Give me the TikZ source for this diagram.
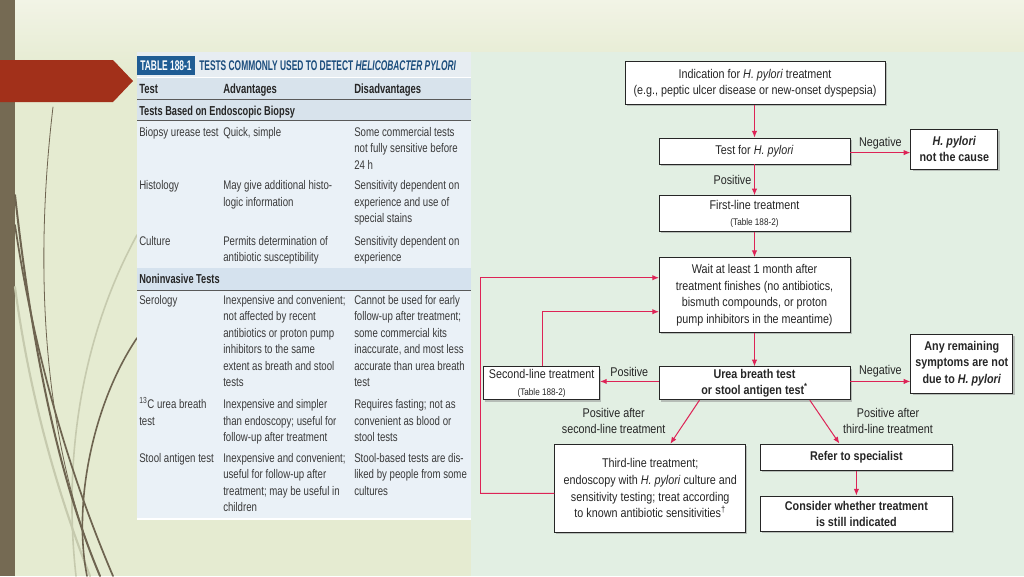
\documentclass[tikz,border=0pt]{standalone}
\usepackage{fontspec}
\setmainfont{Liberation Sans}
\newfontfamily\fcf[FakeStretch=0.85]{Liberation Sans}
\newfontfamily\tbf[FakeStretch=0.77]{Liberation Sans}
\newfontfamily\tbh[FakeStretch=0.71]{Liberation Sans}
\newfontfamily\ttlf[FakeStretch=0.6]{Liberation Sans}
\usetikzlibrary{arrows.meta,shadows}
\definecolor{bgc}{HTML}{E5EBD1}
\definecolor{bgtop}{HTML}{F2F4E6}
\definecolor{barc}{HTML}{756A53}
\definecolor{bannerc}{HTML}{A2301A}
\definecolor{panelc}{HTML}{E2EFE3}
\definecolor{tbody}{HTML}{EAF1F7}
\definecolor{thead}{HTML}{D8E3EC}
\definecolor{tsec}{HTML}{D5E2EE}
\definecolor{ttitle}{HTML}{E7EDF2}
\definecolor{tblue}{HTML}{1F5C94}
\definecolor{ttext}{HTML}{1A4C7C}
\definecolor{bodytxt}{HTML}{3A3A3A}
\definecolor{ared}{HTML}{DD2356}
\definecolor{darkcurve}{HTML}{6E6450}
\definecolor{lightcurve}{HTML}{C6CAAE}
\tikzset{
  tcellsty/.style={anchor=north west, inner sep=0pt, align=left, text=bodytxt,
    font=\tbf\fontsize{9.4}{12.375}\selectfont},
  thsty/.style={anchor=base west, inner sep=0pt, text=black!85,
    font=\tbh\bfseries\fontsize{10}{12}\selectfont},
  fbox/.style={draw=black!85, line width=0.6pt, fill=white, inner sep=1pt, align=center,
    text=black!85, font=\fcf\fontsize{9.5}{12.4}\selectfont, minimum width=143.25pt,
    drop shadow={shadow xshift=1.3pt,shadow yshift=-1.3pt,fill=black!45}},
  fboxb/.style={fbox, font=\fcf\bfseries\fontsize{9.5}{12.2}\selectfont},
  arr/.style={draw=ared, line width=0.75pt, -{Latex[length=5pt,width=4pt]}},
  pline/.style={draw=ared, line width=0.75pt},
  lbl/.style={font=\fcf\fontsize{9.5}{12.2}\selectfont, text=black!85, align=center, inner sep=0pt},
  dcurve/.style={draw=darkcurve, line cap=round},
  lcurve/.style={draw=lightcurve, line cap=round},
}
\newcommand\tcell[4]{\node[tcellsty] (#1) at (#2,#3-11.55) {\strut #4};}
\newcommand\smalltab{\fontsize{7.2}{9}\selectfont}
\begin{document}
\begin{tikzpicture}[x=0.75pt,y=-0.75pt]
\useasboundingbox (0,0) rectangle (1024,576);
% background
\fill[bgc] (0,0) rectangle (1024,576);
\shade[top color=bgtop, bottom color=bgc] (0,0) rectangle (1024,70);
\fill[panelc] (471,52) rectangle (1024,576);
\fill[barc] (0,0) rectangle (15,576);
% decorative curves
\draw[lcurve, line width=1.6pt] (15,287) .. controls (30,400) and (60,500) .. (90,576);
\draw[lcurve, line width=1.2pt] (137,235) .. controls (85,330) and (62,450) .. (76,576);
\draw[dcurve, line width=0.6pt] (53,107) .. controls (36,250) and (38,430) .. (100,576);
\draw[dcurve, line width=1.5pt] (15,195) .. controls (30,330) and (55,470) .. (100,576);
\draw[dcurve, line width=1.3pt] (15,225) .. controls (35,360) and (72,480) .. (113,576);
\draw[dcurve, line width=1.2pt] (137,338) .. controls (95,400) and (72,500) .. (87,576);
% banner
\fill[bannerc] (0,60) -- (113,60) -- (133,81) -- (113,102) -- (0,102) -- cycle;
% ---------------- table ----------------
\fill[tbody] (137,52) rectangle (471,518);
\fill[ttitle] (137,52) rectangle (471,77);
\fill[thead] (137,78) rectangle (471,99);
\fill[thead] (137,100) rectangle (471,120);
\fill[tsec] (137,268) rectangle (471,290);
\draw[white, line width=0.8pt] (137,77.5) -- (471,77.5);
\draw[black!65, line width=0.7pt] (137,99.5) -- (471,99.5);
\draw[black!65, line width=0.7pt] (137,120.5) -- (471,120.5);
\draw[black!65, line width=0.7pt] (137,290.5) -- (471,290.5);
\draw[white, line width=1.5pt] (137,518.5) -- (471,518.5);
\fill[tblue] (137,56) rectangle (195,75);
\node[anchor=base, inner sep=0pt, text=white, font=\ttlf\bfseries\fontsize{10.5}{12}\selectfont] (tno) at (166,70) {TABLE 188-1};
\node[anchor=base west, inner sep=0pt, text=ttext, font=\ttlf\bfseries\fontsize{10.5}{12}\selectfont] (ttl) at (199,70) {TESTS COMMONLY USED TO DETECT \textit{HELICOBACTER PYLORI}};
\node[thsty] (hA) at (139,93.5) {Test};
\node[thsty] (hB) at (223,93.5) {Advantages};
\node[thsty] (hC) at (354,93.5) {Disadvantages};
\node[thsty, font=\tbh\bfseries\fontsize{9.75}{12}\selectfont] (sec1) at (139,115) {Tests Based on Endoscopic Biopsy};
\node[thsty, font=\tbh\bfseries\fontsize{9.75}{12}\selectfont] (sec2) at (139,283) {Noninvasive Tests};
% rows
\tcell{r1a}{139}{136}{Biopsy urease test}
\tcell{r1b}{223}{136}{Quick, simple}
\tcell{r1c}{354}{136}{Some commercial tests\\not fully sensitive before\\24 h}
\tcell{r2a}{139}{189.5}{Histology}
\tcell{r2b}{223}{189.5}{May give additional histo-\\logic information}
\tcell{r2c}{354}{189.5}{Sensitivity dependent on\\experience and use of\\special stains}
\tcell{r3a}{139}{245}{Culture}
\tcell{r3b}{223}{245}{Permits determination of\\antibiotic susceptibility}
\tcell{r3c}{354}{245}{Sensitivity dependent on\\experience}
\tcell{r4a}{139}{304}{Serology}
\tcell{r4b}{223}{304}{Inexpensive and convenient;\\not affected by recent\\antibiotics or proton pump\\inhibitors to the same\\extent as breath and stool\\tests}
\tcell{r4c}{354}{304}{Cannot be used for early\\follow-up after treatment;\\some commercial kits\\inaccurate, and most less\\accurate than urea breath\\test}
\tcell{r5a}{139}{408.5}{\textsuperscript{13}C urea breath\\test}
\tcell{r5b}{223}{408.5}{Inexpensive and simpler\\than endoscopy; useful for\\follow-up after treatment}
\tcell{r5c}{354}{408.5}{Requires fasting; not as\\convenient as blood or\\stool tests}
\tcell{r6a}{139}{462}{Stool antigen test}
\tcell{r6b}{223}{462}{Inexpensive and convenient;\\useful for follow-up after\\treatment; may be useful in\\children}
\tcell{r6c}{354}{462}{Stool-based tests are dis-\\liked by people from some\\cultures}
% ---------------- flowchart ----------------
\node[fbox, minimum width=195pt, minimum height=32.25pt] (ind) at (755,83) {Indication for \textit{H. pylori} treatment\\(e.g., peptic ulcer disease or new-onset dyspepsia)};
\node[fbox, minimum height=19.5pt] (test) at (754.5,151) {Test for \textit{H. pylori}};
\node[fboxb, minimum width=65.25pt, minimum height=30pt] (notc) at (954.3,149) {\textit{H. pylori}\\not the cause};
\node[fbox, minimum height=27pt] (first) at (754.5,213.7) {First-line treatment\\{\smalltab (Table 188-2)}};
\node[fbox, minimum height=56.25pt] (wait) at (754.5,295) {Wait at least 1 month after\\treatment finishes (no antibiotics,\\bismuth compounds, or proton\\pump inhibitors in the meantime)};
\node[fboxb, minimum width=76.5pt, minimum height=44.25pt] (anyr) at (961.8,363.7) {Any remaining\\symptoms are not\\due to \textit{H. pylori}};
\node[fbox, minimum width=87pt, minimum height=24.75pt] (second) at (541.6,383.3) {Second-line treatment\\{\smalltab (Table 188-2)}};
\node[fboxb, minimum height=24.75pt] (urea) at (754.5,383.3) {Urea breath test\\or stool antigen test\textsuperscript{*}};
\node[fbox, minimum height=66pt] (third) at (650.2,488.2) {Third-line treatment;\\endoscopy with \textit{H. pylori} culture and\\sensitivity testing; treat according\\to known antibiotic sensitivities\textsuperscript{†}};
\node[fboxb, minimum width=143.7pt, minimum height=20pt] (refer) at (856.4,457.3) {Refer to specialist};
\node[fboxb, minimum width=143.7pt, minimum height=26.8pt] (cons) at (856.4,513.8) {Consider whether treatment\\is still indicated};
% connectors
\coordinate (w1) at (659,277.7);
\coordinate (w2) at (659,311.7);
\coordinate (lp) at (480,493.3);
\draw[arr] (ind.south -| test.north) -- (test.north);
\draw[arr] ([yshift=-1.2pt]test.east) -- ([yshift=-1.2pt]test.east -| notc.west) node[lbl, midway, above=2pt] (neg1) {Negative};
\draw[arr] (test.south) -- (first.north) node[lbl, midway, left=2pt] (pos1) {Positive};
\draw[arr] (first.south) -- (wait.north);
\draw[arr] (wait.south) -- (urea.north);
\draw[arr] ([yshift=1.4pt]urea.east) -- ([yshift=1.4pt]urea.east -| anyr.west) node[lbl, midway, above=3pt] (neg2) {Negative};
\draw[arr] ([yshift=1.4pt]urea.west) -- ([yshift=1.4pt]urea.west -| second.east) node[lbl, midway, above=3pt] (pos2) {Positive};
\draw[arr] ([xshift=0.7pt]second.north) |- (w2);
\draw[pline] ([yshift=-3.8pt]third.west) -- (lp);
\draw[arr] (lp) |- (w1);
\draw[arr] ([xshift=-41.3pt]urea.south) -- ([xshift=15.1pt]third.north);
\draw[arr] ([xshift=41.5pt]urea.south) -- ([xshift=-12.75pt]refer.north);
\draw[arr] (refer.south) -- (cons.north);
\node[lbl] (pa2) at (613.7,420.8) {Positive after\\second-line treatment};
\node[lbl] (pa3) at (888,420.8) {Positive after\\third-line treatment};
\end{tikzpicture}
\end{document}
